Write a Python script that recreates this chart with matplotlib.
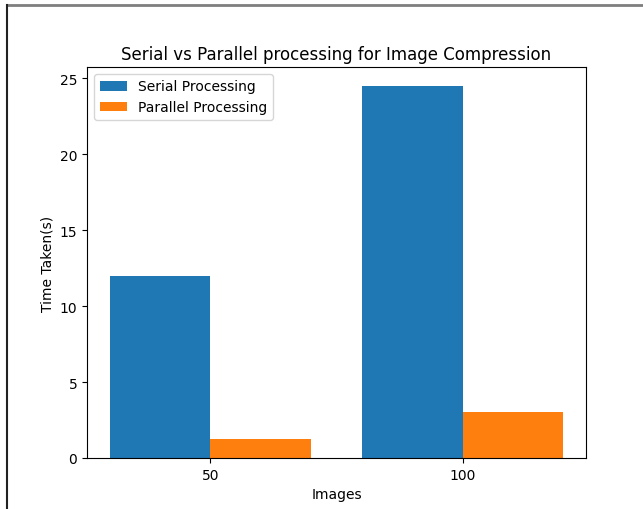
import numpy as np
import matplotlib
matplotlib.use('Agg')
import matplotlib.pyplot as plt
from matplotlib.lines import Line2D

images = ['50', '100']
serial_times = [12.0, 24.5]
parallel_times = [1.25, 3.0]

fig = plt.figure(figsize=(6.43, 5.10), dpi=100)
ax = fig.add_axes([87 / 643, 51 / 510, 499 / 643, 391 / 510])

x = np.arange(len(images))  # positions of the image groups
bar_width = 0.4
ax.bar(x - bar_width / 2, serial_times, width=bar_width, label='Serial Processing')
ax.bar(x + bar_width / 2, parallel_times, width=bar_width, label='Parallel Processing')
ax.set_xticks(x)
ax.set_xticklabels(images)
ax.set_xlabel('Images')
ax.set_ylabel('Time Taken(s)')
ax.set_title('Serial vs Parallel processing for Image Compression')
ax.legend(loc='upper left')

# screenshot frame around the figure
fig.add_artist(Line2D([6.5 / 643, 1], [1 - 5.5 / 510, 1 - 5.5 / 510],
                      transform=fig.transFigure, color='#7f7f7f', linewidth=2))
fig.add_artist(Line2D([6.5 / 643, 6.5 / 643], [0, 1 - 5.5 / 510],
                      transform=fig.transFigure, color='#222222', linewidth=1.5))

fig.savefig('out.png', dpi=100)
